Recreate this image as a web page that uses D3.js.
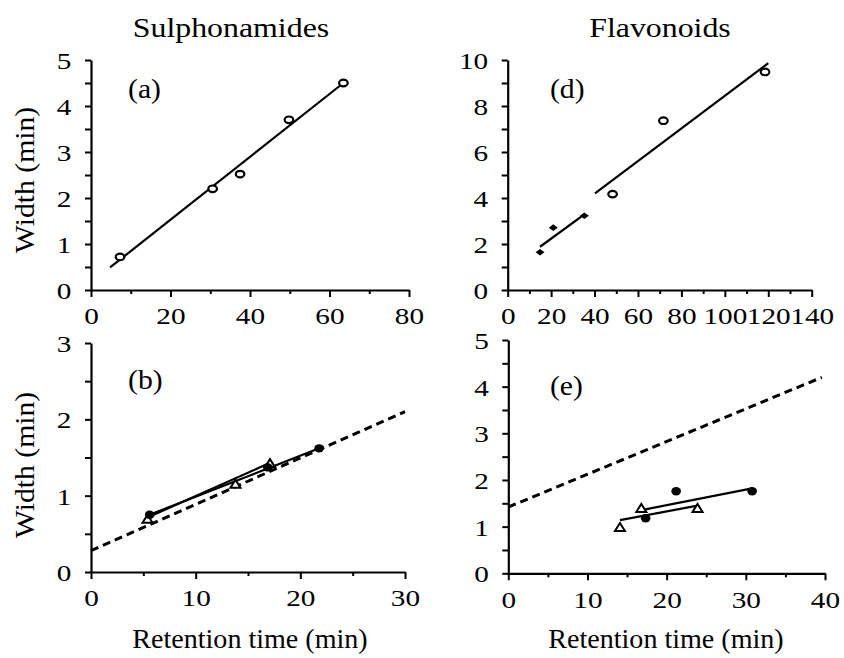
<!DOCTYPE html>
<html><head><meta charset="utf-8">
<script src="https://cdn.jsdelivr.net/npm/d3@7/dist/d3.min.js"></script>
<style>body{margin:0;background:#fff}text{font-family:"Liberation Serif","Times New Roman",serif;fill:#000}</style>
</head><body><svg id="c" width="844" height="658"></svg>
<script>
// ---- data ----
const columnTitles = ["Sulphonamides", "Flavonoids"];
const panelLabels = ["(a)", "(b)", "(d)", "(e)"];
const yLabel = "Width (min)";
const xLabel = "Retention time (min)";

// (a)
const aX = [7.3, 30.6, 37.5, 49.8, 63.5];
const aY = [0.72, 2.2, 2.52, 3.7, 4.5];
const aFitX = [4.8, 63.5];
const aFitY = [0.49, 4.5];
const aXTicks = [0, 20, 40, 60, 80];
const aYTicks = [0, 1, 2, 3, 4, 5];

// (b)
const bCircX = [5.6, 16.9, 21.8];
const bCircY = [0.75, 1.37, 1.62];
const bTriX = [5.4, 13.8, 17.1];
const bTriY = [0.69, 1.15, 1.42];
const bCircFitX = [5.6, 21.8];
const bCircFitY = [0.75, 1.62];
const bTriFitX = [5.5, 17.1];
const bTriFitY = [0.72, 1.43];
const bDashX = [0, 30];
const bDashY = [0.28, 2.1];
const bXTicks = [0, 10, 20, 30];
const bYTicks = [0, 1, 2, 3];

// (d)
const dDiaX = [14.9, 21, 35.3];
const dDiaY = [1.64, 2.71, 3.23];
const dFit1X = [14.9, 35.3];
const dFit1Y = [1.88, 3.29];
const dCircX = [48.3, 71.7, 118.5];
const dCircY = [4.17, 7.36, 9.48];
const dFit2X = [40.2, 120];
const dFit2Y = [4.2, 9.86];
const dXTicks = [0, 20, 40, 60, 80, 100, 120, 140];
const dYTicks = [0, 2, 4, 6, 8, 10];

// (e)
const eCircX = [17.35, 21.2, 30.8];
const eCircY = [1.18, 1.76, 1.76];
const eTriX = [14.1, 16.8, 23.9];
const eTriY = [0.98, 1.39, 1.39];
const eTriFitX = [14.1, 23.9];
const eTriFitY = [1.14, 1.45];
const eCircFitX = [17.0, 30.8];
const eCircFitY = [1.36, 1.82];
const eDashX = [0, 39.6];
const eDashY = [1.42, 4.2];
const eXTicks = [0, 10, 20, 30, 40];
const eYTicks = [0, 1, 2, 3, 4, 5];

const svg = d3.select("#c");
const zip = (xs, ys) => xs.map((v, i) => [v, ys[i]]);
const fmt = d3.format("d");

function panel(o) {
  const x = d3.scaleLinear().domain([o.xTicks[0], o.xTicks[o.xTicks.length - 1]]).range([o.x0, o.x1]);
  const y = d3.scaleLinear().domain([o.yTicks[0], o.yTicks[o.yTicks.length - 1]]).range([o.y0, o.y1]);
  const g = svg.append("g");
  const xMinor = d3.range(o.xTicks[0], o.xTicks[o.xTicks.length - 1] + 1e-9, o.xMinorStep).filter(v => !o.xTicks.some(t => Math.abs(t - v) < 1e-9));
  const yMinor = d3.range(o.yTicks[0], o.yTicks[o.yTicks.length - 1] + 1e-9, o.yMinorStep).filter(v => !o.yTicks.some(t => Math.abs(t - v) < 1e-9));

  const gx = g.append("g").attr("transform", `translate(0,${o.y0})`)
    .call(d3.axisBottom(x).tickValues(o.xTicks).tickFormat(fmt).tickSize(7).tickSizeOuter(0).tickPadding(10));
  g.append("g").attr("transform", `translate(0,${o.y0})`)
    .call(d3.axisBottom(x).tickValues(xMinor).tickSize(4).tickFormat("")).select(".domain").remove();
  const gy = g.append("g").attr("transform", `translate(${o.x0},0)`)
    .call(d3.axisLeft(y).tickValues(o.yTicks).tickFormat(fmt).tickSize(6).tickSizeOuter(0).tickPadding(10));
  g.append("g").attr("transform", `translate(${o.x0},0)`)
    .call(d3.axisLeft(y).tickValues(yMinor).tickSize(6).tickFormat("")).select(".domain").remove();

  g.selectAll(".domain").attr("stroke", "#000").attr("stroke-width", 2.2);
  g.selectAll(".tick line").attr("stroke", "#000").attr("stroke-width", 2);
  gx.selectAll(".tick text").attr("font-size", 24).attr("dy", "0.72em").attr("transform", "scale(1.22,1)");
  gy.selectAll(".tick text").attr("font-size", 24).attr("dy", "0.36em").attr("transform", "scale(1.22,1)");
  g.selectAll(".tick text").attr("fill", "#000");

  const line = d3.line().x(d => x(d[0])).y(d => y(d[1]));
  (o.fits || []).forEach(f => {
    g.append("path").attr("d", line(zip(f.x, f.y))).attr("fill", "none").attr("stroke", "#000")
      .attr("stroke-width", f.dash ? 3 : 2.2).attr("stroke-dasharray", f.dash ? "8,5" : null);
  });
  (o.series || []).forEach(s => {
    const pts = zip(s.x, s.y);
    pts.forEach(p => {
      const cx = x(p[0]), cy = y(p[1]);
      if (s.shape === "openCircle") {
        g.append("ellipse").attr("cx", cx).attr("cy", cy).attr("rx", 4.3).attr("ry", 3.3)
          .attr("fill", "#fff").attr("stroke", "#000").attr("stroke-width", 2.2);
      } else if (s.shape === "dot") {
        g.append("ellipse").attr("cx", cx).attr("cy", cy).attr("rx", 4.8).attr("ry", 4.2).attr("fill", "#000");
      } else if (s.shape === "diamond") {
        g.append("path").attr("d", `M${cx - 4.5},${cy}L${cx},${cy - 3.3}L${cx + 4.5},${cy}L${cx},${cy + 3.3}Z`).attr("fill", "#000");
      } else if (s.shape === "triangle") {
        g.append("path").attr("d", `M${cx - 5},${cy + 3.5}L${cx},${cy - 4.5}L${cx + 5},${cy + 3.5}Z`)
          .attr("fill", "#fff").attr("stroke", "#000").attr("stroke-width", 2);
      }
    });
  });
  g.append("text").attr("x", o.labX).attr("y", o.labY).attr("font-size", 27)
    .attr("transform", `translate(${o.labX},${o.labY}) scale(1.1,1) translate(${-o.labX},${-o.labY})`).text(o.label);
  return {x, y};
}

panel({x0: 91, x1: 409, y0: 290, y1: 60, xTicks: aXTicks, yTicks: aYTicks, xMinorStep: 10, yMinorStep: 0.5,
  label: panelLabels[0], labX: 128, labY: 98,
  fits: [{x: aFitX, y: aFitY}],
  series: [{x: aX, y: aY, shape: "openCircle"}]});

panel({x0: 91, x1: 405, y0: 572, y1: 343, xTicks: bXTicks, yTicks: bYTicks, xMinorStep: 5, yMinorStep: 0.5,
  label: panelLabels[1], labX: 128, labY: 389,
  fits: [{x: bDashX, y: bDashY, dash: true}, {x: bCircFitX, y: bCircFitY}, {x: bTriFitX, y: bTriFitY}],
  series: [{x: bTriX, y: bTriY, shape: "triangle"}, {x: bCircX, y: bCircY, shape: "dot"}]});

panel({x0: 507.7, x1: 811.7, y0: 290, y1: 60, xTicks: dXTicks, yTicks: dYTicks, xMinorStep: 10, yMinorStep: 1,
  label: panelLabels[2], labX: 550, labY: 98,
  fits: [{x: dFit1X, y: dFit1Y}, {x: dFit2X, y: dFit2Y}],
  series: [{x: dDiaX, y: dDiaY, shape: "diamond"}, {x: dCircX, y: dCircY, shape: "openCircle"}]});

panel({x0: 508.3, x1: 825, y0: 573.3, y1: 340, xTicks: eXTicks, yTicks: eYTicks, xMinorStep: 5, yMinorStep: 0.5,
  label: panelLabels[3], labX: 550, labY: 395,
  fits: [{x: eDashX, y: eDashY, dash: true}, {x: eTriFitX, y: eTriFitY}, {x: eCircFitX, y: eCircFitY}],
  series: [{x: eTriX, y: eTriY, shape: "triangle"}, {x: eCircX, y: eCircY, shape: "dot"}]});

// titles
svg.append("text").attr("x", 231).attr("y", 37).attr("text-anchor", "middle").attr("font-size", 27)
  .attr("transform", "translate(231,37) scale(1.18,1) translate(-231,-37)").text(columnTitles[0]);
svg.append("text").attr("x", 660).attr("y", 37).attr("text-anchor", "middle").attr("font-size", 27)
  .attr("transform", "translate(660,37) scale(1.18,1) translate(-660,-37)").text(columnTitles[1]);

// y labels
[[180], [465]].forEach(([cy]) => {
  svg.append("text").attr("text-anchor", "middle").attr("font-size", 27)
    .attr("transform", `translate(34,${cy}) rotate(-90) scale(1.1,1)`).text(yLabel);
});
// x labels
[[250], [666]].forEach(([cx]) => {
  svg.append("text").attr("text-anchor", "middle").attr("font-size", 27)
    .attr("transform", `translate(${cx},648) scale(1.04,1)`).text(xLabel);
});
</script></body></html>
